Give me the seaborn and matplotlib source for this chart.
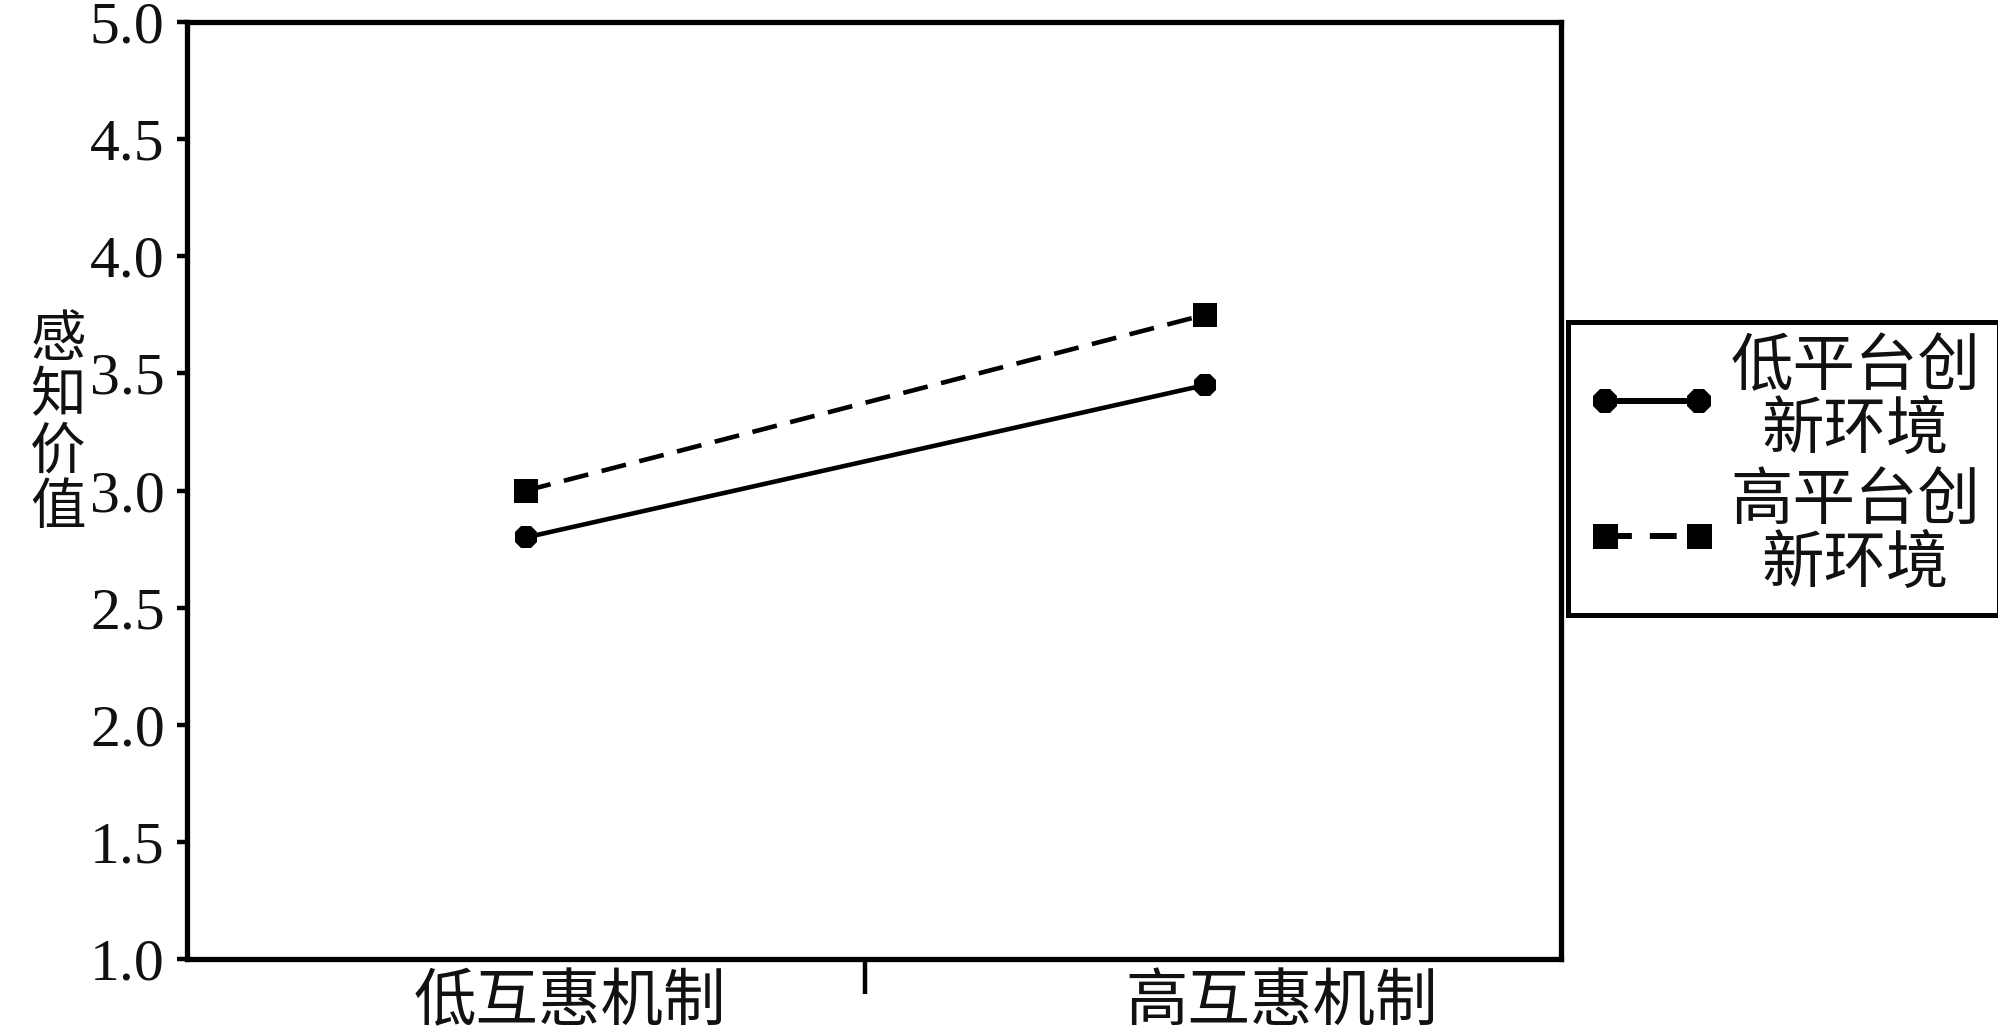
import pandas as pd
import matplotlib
matplotlib.use('Agg')
import matplotlib.pyplot as plt
from matplotlib.lines import Line2D
import seaborn as sns

# Data
mechanisms = ['低互惠机制', '高互惠机制']
env_labels = ['低平台创\n新环境', '高平台创\n新环境']
low_env_values = [2.80, 3.45]
high_env_values = [3.00, 3.75]
y_ticks = [1.0, 1.5, 2.0, 2.5, 3.0, 3.5, 4.0, 4.5, 5.0]
y_label = '感\n知\n价\n值'

df = pd.DataFrame({
    'mechanism': mechanisms * 2,
    'value': low_env_values + high_env_values,
    'env': [env_labels[0]] * 2 + [env_labels[1]] * 2,
})

sns.set_theme(style='white')
plt.rcParams['font.family'] = ['Liberation Serif', 'Noto Sans CJK SC']

LW = 3.3
MS = 17
DASH = (5.5, 3.0)

fig = plt.figure(figsize=(19.99, 10.31), dpi=100, facecolor='white')
ax = fig.add_axes([0.0935, 0.0698, 0.6873, 0.9088])

sns.lineplot(data=df, x='mechanism', y='value', hue='env', style='env',
             palette=['black', 'black'], markers=['8', 's'], dashes=['', DASH],
             linewidth=LW, markersize=MS, markeredgecolor='black',
             markeredgewidth=0, ax=ax, legend=False)

ax.set_xlim(-0.5, 1.525)
ax.set_ylim(1.0, 5.0)
ax.set_yticks(y_ticks)
ax.set_yticklabels([f'{t:.1f}' for t in y_ticks])
# category labels sit a little right of the points, as in the original
ax.set_xticks([0.065, 1.114])
ax.set_xticklabels(mechanisms)
ax.set_xticks([0.5], minor=True)
ax.set_xlabel('')
ax.set_ylabel('')

for s in ax.spines.values():
    s.set_visible(True)
    s.set_color('black')
    s.set_linewidth(3.8)

ax.tick_params(axis='y', which='major', direction='out', length=7, width=3.2,
               color='black', labelsize=43, pad=9, left=True)
ax.tick_params(axis='x', which='major', length=0, labelsize=45, pad=12)
ax.tick_params(axis='x', which='minor', direction='out', length=25, width=3.2,
               color='black', bottom=True)
for lbl in ax.get_yticklabels() + ax.get_xticklabels():
    lbl.set_color('#111111')

fig.text(58 / 1999, 1 - 426 / 1031, y_label, ha='center', va='center',
         fontsize=40, linespacing=1.1, color='#111111')

handles = [
    Line2D([], [], color='black', lw=LW + 1, marker='8', markersize=MS + 1, mew=0),
    Line2D([], [], color='black', lw=LW + 1, marker='s', markersize=MS + 1, mew=0,
           dashes=(4.5, 3.0)),
]
leg = fig.legend(handles, env_labels, loc='center left',
                 bbox_to_anchor=(1568 / 1999, 0.546), bbox_transform=fig.transFigure,
                 borderaxespad=0, numpoints=2, fontsize=45, handlelength=2.1,
                 handletextpad=0.2, borderpad=0.3, labelspacing=0.22,
                 frameon=True, fancybox=False, framealpha=1, edgecolor='black')
leg.get_frame().set_linewidth(3.6)
for t in leg.get_texts():
    t.set_multialignment('center')
    t.set_linespacing(1.08)
    t.set_color('#111111')

plt.savefig('out.png', dpi=100, facecolor='white')
plt.close()
